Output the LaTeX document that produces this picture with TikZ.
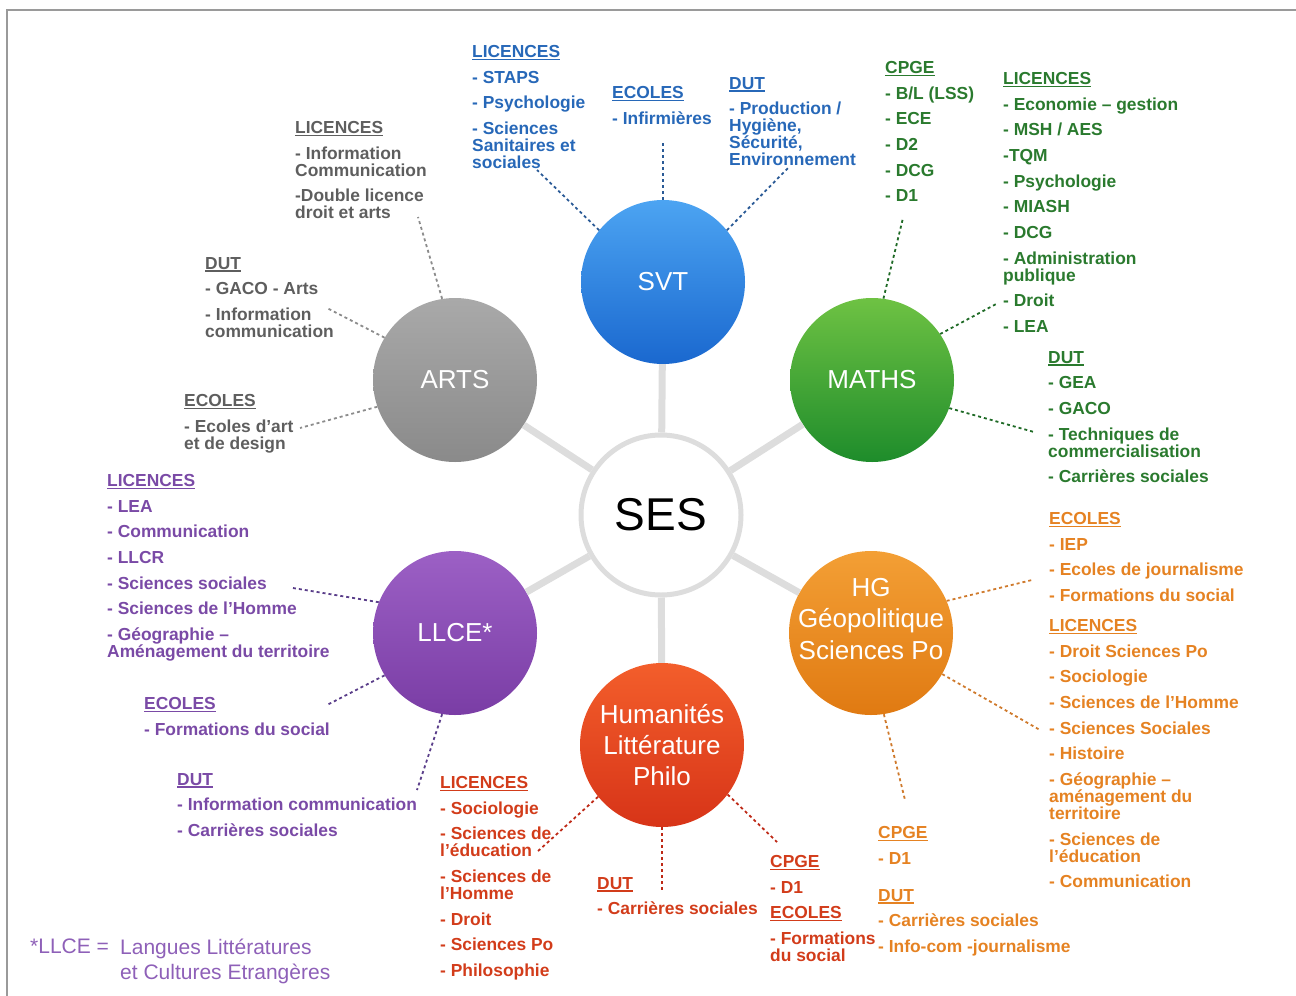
\documentclass[tikz,border=0pt]{standalone}
\usepackage{fontspec}
\setmainfont{Liberation Sans}
\usepackage{tikz}
\usetikzlibrary{positioning}

\definecolor{svtTop}{HTML}{4CA4F2}
\definecolor{svtBot}{HTML}{1A68CF}
\definecolor{mathsTop}{HTML}{6EC243}
\definecolor{mathsBot}{HTML}{1E8C2B}
\definecolor{artsTop}{HTML}{A9A9A9}
\definecolor{artsBot}{HTML}{8A8A8A}
\definecolor{hgTop}{HTML}{F39F35}
\definecolor{hgBot}{HTML}{E07A12}
\definecolor{llceTop}{HTML}{9C60C5}
\definecolor{llceBot}{HTML}{7A3DA5}
\definecolor{humTop}{HTML}{F35E2B}
\definecolor{humBot}{HTML}{D73418}
\definecolor{svtText}{HTML}{2768B8}
\definecolor{mathsText}{HTML}{2A7A2E}
\definecolor{artsText}{HTML}{5E5E5E}
\definecolor{hgText}{HTML}{E58222}
\definecolor{llceText}{HTML}{7A4AA6}
\definecolor{humText}{HTML}{D23C1A}
\definecolor{noteText}{HTML}{8E60B8}
\definecolor{svtDot}{HTML}{2A5A96}
\definecolor{mathsDot}{HTML}{1F6A26}
\definecolor{artsDot}{HTML}{8C8C8C}
\definecolor{hgDot}{HTML}{CF7A2C}
\definecolor{llceDot}{HTML}{5A3E8A}
\definecolor{humDot}{HTML}{BE2916}
\definecolor{spokeGrey}{HTML}{DDDDDD}
\definecolor{frameGrey}{HTML}{9A9A9A}

\newcommand{\hd}[1]{\leavevmode\setbox0\hbox{#1}\rlap{\rule[-2.5pt]{\wd0}{1.3pt}}\box0}
\newcommand{\listfont}{\fontsize{17.4}{17}\selectfont\bfseries\lineskiplimit=-20pt}

\begin{document}
\begin{tikzpicture}[
    x=1pt, y=-1pt,
    subj/.style={circle, minimum size=164pt, inner sep=0pt, align=center, text=white,
        font=\fontsize{26}{31}\selectfont, top color=#1Top, bottom color=#1Bot},
    lst/.style={anchor=north west, inner sep=0pt, align=left, text=#1, font=\listfont},
    dotline/.style={draw=#1, line width=1.8pt, dash pattern=on 3pt off 3pt},
    spoke/.style={draw=spokeGrey, line width=7pt},
]
    \useasboundingbox (0,0) rectangle (1296,996);
    \draw[frameGrey, line width=1.5pt] (7,996) -- (7,10) -- (1296,10);

    % subjects
    \node[circle, draw=spokeGrey, line width=5pt, fill=white, minimum size=160pt,
          font=\fontsize{46}{50}\selectfont] (ses) at (661,515) {SES};
    \node[subj=svt] (svt) at (663,282) {SVT};
    \node[subj=maths] (maths) at (872,380) {MATHS};
    \node[subj=arts] (arts) at (455,380) {ARTS};
    \node[subj=hg] (hg) at (871,633) {};
    \node[align=center, text=white, font=\fontsize{26}{31.5}\selectfont] (hglabel) at (871,619)
        {HG\\Géopolitique\\Sciences Po};
    \node[subj=llce] (llce) at (455,633) {LLCE*};
    \node[subj=hum] (hum) at (662,745) {Humanités\\Littérature\\Philo};

    \draw[spoke] (ses) -- (svt);
    \draw[spoke] (ses) -- (maths);
    \draw[spoke] (ses) -- (arts);
    \draw[spoke] (ses) -- (hg);
    \draw[spoke] (ses) -- (llce);
    \draw[spoke] (ses) -- (hum);

    % ARTS
    \node[lst=artsText] (artslic) at (295,121) {\hd{LICENCES}\\[8.7pt]- Information\\Communication\\[8.7pt]-Double licence\\droit et arts};
    \node[lst=artsText] (artsdut) at (205,257) {\hd{DUT}\\[8.7pt]- GACO - Arts\\[8.7pt]- Information\\communication};
    \node[lst=artsText] (artsecol) at (184,394) {\hd{ECOLES}\\[8.7pt]- Ecoles d'art\\et de design};
    \coordinate (artslic-end) at (418,217);
    \coordinate (artsdut-end) at (327,308);
    \coordinate (artsecol-end) at (300,428);
    \draw[dotline=artsDot] (arts.99) -- (artslic-end);
    \draw[dotline=artsDot] (arts.149) -- (artsdut-end);
    \draw[dotline=artsDot] (arts.199) -- (artsecol-end);

    % SVT
    \node[lst=svtText] (svtlic) at (472,45) {\hd{LICENCES}\\[8.7pt]- STAPS\\[8.7pt]- Psychologie\\[8.7pt]- Sciences\\Sanitaires et\\sociales};
    \node[lst=svtText] (svtecol) at (612,86) {\hd{ECOLES}\\[8.7pt]- Infirmières};
    \node[lst=svtText] (svtdut) at (729,77) {\hd{DUT}\\[8.7pt]- Production /\\Hygiène,\\Sécurité,\\Environnement};
    \coordinate (svtlic-end) at (537,170);
    \coordinate (svtecol-end) at (663,140);
    \coordinate (svtdut-end) at (788,168);
    \draw[dotline=svtDot] (svt.141) -- (svtlic-end);
    \draw[dotline=svtDot] (svt.90) -- (svtecol-end);
    \draw[dotline=svtDot] (svt.39) -- (svtdut-end);

    % MATHS
    \node[lst=mathsText] (mathcpge) at (885,61) {\hd{CPGE}\\[8.7pt]- B/L (LSS)\\[8.7pt]- ECE\\[8.7pt]- D2\\[8.7pt]- DCG\\[8.7pt]- D1};
    \node[lst=mathsText] (mathlic) at (1003,72) {\hd{LICENCES}\\[8.7pt]- Economie – gestion\\[8.7pt]- MSH / AES\\[8.7pt]-TQM\\[8.7pt]- Psychologie\\[8.7pt]- MIASH\\[8.7pt]- DCG\\[8.7pt]- Administration\\publique\\[8.7pt]- Droit\\[8.7pt]- LEA};
    \node[lst=mathsText] (mathdut) at (1048,351) {\hd{DUT}\\[8.7pt]- GEA\\[8.7pt]- GACO\\[8.7pt]- Techniques de\\commercialisation\\[8.7pt]- Carrières sociales};
    \coordinate (mathcpge-end) at (903,218);
    \coordinate (mathlic-end) at (998,303);
    \coordinate (mathdut-end) at (1034,432);
    \draw[dotline=mathsDot] (maths.82) -- (mathcpge-end);
    \draw[dotline=mathsDot] (maths.34) -- (mathlic-end);
    \draw[dotline=mathsDot] (maths.-20) -- (mathdut-end);

    % HG
    \node[lst=hgText] (hgecol) at (1049,512) {\hd{ECOLES}\\[8.7pt]- IEP\\[8.7pt]- Ecoles de journalisme\\[8.7pt]- Formations du social};
    \node[lst=hgText] (hglic) at (1049,619) {\hd{LICENCES}\\[8.7pt]- Droit Sciences Po\\[8.7pt]- Sociologie\\[8.7pt]- Sciences de l'Homme\\[8.7pt]- Sciences Sociales\\[8.7pt]- Histoire\\[8.7pt]- Géographie –\\aménagement du\\territoire\\[8.7pt]- Sciences de\\l'éducation\\[8.7pt]- Communication};
    \node[lst=hgText] (hgcpge) at (878,826) {\hd{CPGE}\\[8.7pt]- D1};
    \node[lst=hgText] (hgdut) at (878,889) {\hd{DUT}\\[8.7pt]- Carrières sociales\\[8.7pt]- Info-com -journalisme};
    \coordinate (hgecol-end) at (1032,580);
    \coordinate (hglic-end) at (1040,730);
    \coordinate (hgcpge-end) at (905,800);
    \draw[dotline=hgDot] (hg.23) -- (hgecol-end);
    \draw[dotline=hgDot] (hg.-30) -- (hglic-end);
    \draw[dotline=hgDot] (hg.-81) -- (hgcpge-end);

    % LLCE
    \node[lst=llceText] (llclic) at (107,474) {\hd{LICENCES}\\[8.7pt]- LEA\\[8.7pt]- Communication\\[8.7pt]- LLCR\\[8.7pt]- Sciences sociales\\[8.7pt]- Sciences de l'Homme\\[8.7pt]- Géographie –\\Aménagement du territoire};
    \node[lst=llceText] (llcecol) at (144,697) {\hd{ECOLES}\\[8.7pt]- Formations du social};
    \node[lst=llceText] (llcdut) at (177,773) {\hd{DUT}\\[8.7pt]- Information communication\\[8.7pt]- Carrières sociales};
    \coordinate (llclic-end) at (293,588);
    \coordinate (llcecol-end) at (327,705);
    \coordinate (llcdut-end) at (417,790);
    \draw[dotline=llceDot] (llce.158) -- (llclic-end);
    \draw[dotline=llceDot] (llce.211) -- (llcecol-end);
    \draw[dotline=llceDot] (llce.261) -- (llcdut-end);

    % Humanites
    \node[lst=humText] (humlic) at (440,776) {\hd{LICENCES}\\[8.7pt]- Sociologie\\[8.7pt]- Sciences de\\l'éducation\\[8.7pt]- Sciences de\\l'Homme\\[8.7pt]- Droit\\[8.7pt]- Sciences Po\\[8.7pt]- Philosophie};
    \node[lst=humText] (humdut) at (597,877) {\hd{DUT}\\[8.7pt]- Carrières sociales};
    \node[lst=humText] (humcpge) at (770,855) {\hd{CPGE}\\[8.7pt]- D1\\[8.7pt]\hd{ECOLES}\\[8.7pt]- Formations\\du social};
    \coordinate (humlic-end) at (537,852);
    \coordinate (humdut-end) at (662,890);
    \coordinate (humcpge-end) at (777,842);
    \draw[dotline=humDot] (hum.219) -- (humlic-end);
    \draw[dotline=humDot] (hum.270) -- (humdut-end);
    \draw[dotline=humDot] (hum.-37) -- (humcpge-end);

    % note
    \node[anchor=north west, inner sep=0pt, text=noteText, font=\fontsize{21}{25}\selectfont] (notekey) at (30,939) {*LLCE =};
    \node[anchor=north west, inner sep=0pt, align=left, text=noteText, font=\fontsize{21}{25}\selectfont] (notetxt) at (120,939) {Langues Littératures\\et Cultures Etrangères};
\end{tikzpicture}
\end{document}
